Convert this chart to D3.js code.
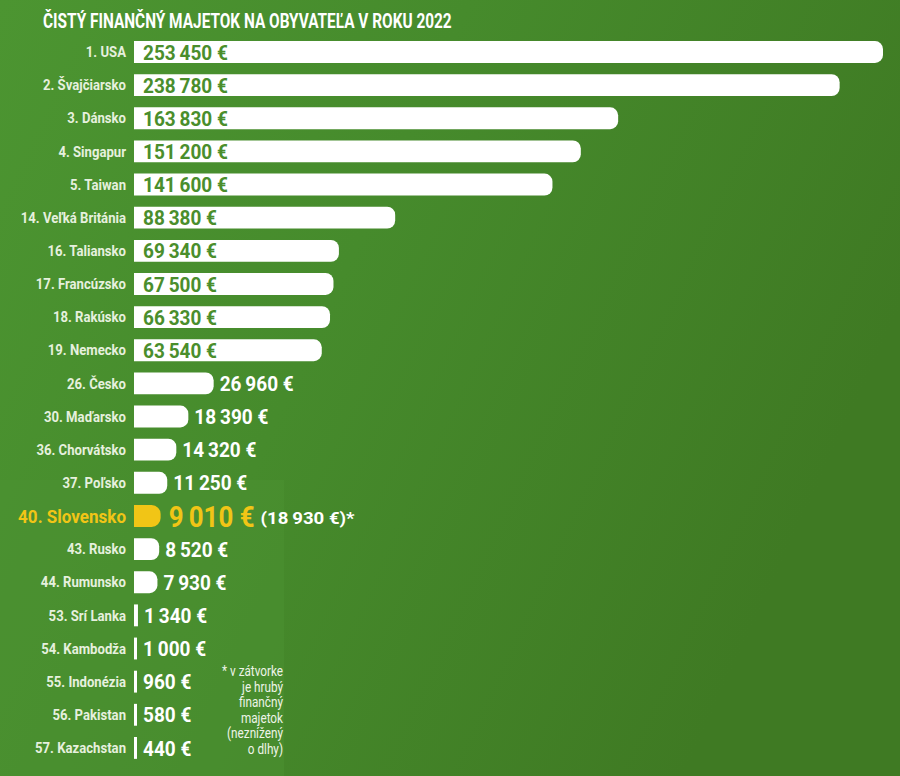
<!DOCTYPE html>
<html>
<head>
<meta charset="utf-8">
<script src="https://cdn.jsdelivr.net/npm/d3@7"></script>
<style>
  html, body { margin: 0; padding: 0; background: #45872b; }
  svg { display: block; }
  text { font-family: Roboto, "Open Sans", "Liberation Sans", sans-serif; }
</style>
</head>
<body>
<svg id="chart" width="900" height="776"></svg>
<script>
const title = "ČISTÝ FINANČNÝ MAJETOK NA OBYVATEĽA V ROKU 2022";
const countries = ["1. USA", "2. Švajčiarsko", "3. Dánsko", "4. Singapur", "5. Taiwan",
  "14. Veľká Británia", "16. Taliansko", "17. Francúzsko", "18. Rakúsko", "19. Nemecko",
  "26. Česko", "30. Maďarsko", "36. Chorvátsko", "37. Poľsko", "40. Slovensko",
  "43. Rusko", "44. Rumunsko", "53. Srí Lanka", "54. Kambodža", "55. Indonézia",
  "56. Pakistan", "57. Kazachstan"];
const values = [253450, 238780, 163830, 151200, 141600, 88380, 69340, 67500, 66330, 63540,
  26960, 18390, 14320, 11250, 9010, 8520, 7930, 1340, 1000, 960, 580, 440];
const highlight = "40. Slovensko";
const highlightGross = 18930;
const footnote = ["* v zátvorke", "je hrubý", "finančný", "majetok", "(neznížený", "o dlhy)"];

const svg = d3.select("#chart");
const W = 900, H = 776;

const defs = svg.append("defs");
const bg = defs.append("linearGradient").attr("id", "bg").attr("x1", 0).attr("y1", 0).attr("x2", 1).attr("y2", 0.4);
bg.append("stop").attr("offset", "0%").attr("stop-color", "#4c9531");
bg.append("stop").attr("offset", "45%").attr("stop-color", "#468b2c");
bg.append("stop").attr("offset", "100%").attr("stop-color", "#3f7a23");
svg.append("rect").attr("width", W).attr("height", H).attr("fill", "url(#bg)");
svg.append("rect").attr("x", 0).attr("y", 480).attr("width", 284).attr("height", H - 480)
  .attr("fill", "#4c9231").attr("opacity", 0.5);

const x = d3.scaleLinear().domain([0, d3.max(values)]).range([134, 883]);
const y = d3.scaleBand().domain(countries).range([35.4, 764.5]).paddingInner(0.34).paddingOuter(0.17);

const fmt = v => d3.format(",")(v).replace(/,/g, "\u2009") + "\u00a0€";

// horizontal compression factor so a sample string spans a target width
function squeeze(sample, size, weight, target) {
  const t = svg.append("text").attr("font-size", size).attr("font-weight", weight).text(sample);
  const w = t.node().getComputedTextLength();
  t.remove();
  return target / w;
}
function place(sel, sx, fx, fy) {
  sel.attr("x", 0).attr("y", 0)
    .attr("transform", (d, i) => `translate(${fx(d, i)},${fy(d, i)}) scale(${sx},1)`);
}

const sxTitle = squeeze(title, 20, "bold", 409);
const sxLabel = squeeze("57. Kazachstan", 14.5, "bold", 91);
const sxHiLabel = squeeze("40. Slovensko", 19, "bold", 108);
const sxValue = squeeze(fmt(88380), 21, "bold", 74);
const sxHiValue = squeeze(fmt(9010), 30, "bold", 86);
const sxGross = squeeze("(" + fmt(highlightGross) + ")*", 16.5, "bold", 94);
const sxNote = squeeze("* v zátvorke", 14, "normal", 61);

svg.append("text").attr("fill", "#ffffff").attr("font-size", 20).attr("font-weight", "bold")
  .datum(title).text(d => d)
  .call(place, sxTitle, () => 43, () => 28);

function barPath(x0, x1, y0, h, r) {
  const w = x1 - x0;
  r = Math.min(r, w, h / 2);
  if (w < 5) return `M${x0},${y0}h${w}v${h}h${-w}Z`;
  return `M${x0},${y0}H${x1 - r}A${r},${r} 0 0 1 ${x1},${y0 + r}V${y0 + h - r}A${r},${r} 0 0 1 ${x1 - r},${y0 + h}H${x0}Z`;
}

const rows = countries.map((c, i) => ({ c, v: values[i] }));
const cy = d => y(d.c) + y.bandwidth() / 2;
const barEnd = d => Math.max(x(d.v), x(0) + 3);
const inside = d => x(d.v) - x(0) > 150;
const isHi = d => d.c === highlight;

const row = svg.append("g").selectAll("g.row").data(rows).join("g").attr("class", "row");

row.append("text")
  .attr("dy", "0.36em")
  .attr("text-anchor", "end")
  .attr("font-size", d => isHi(d) ? 19 : 14.5)
  .attr("font-weight", "bold")
  .attr("fill", d => isHi(d) ? "#f1c516" : "#e6f0de")
  .text(d => d.c)
  .each(function(d) {
    d3.select(this).call(place, isHi(d) ? sxHiLabel : sxLabel, () => 126, () => cy(d));
  });

row.append("path")
  .attr("d", d => barPath(x(0), barEnd(d), y(d.c), y.bandwidth(), isHi(d) ? 9 : 8))
  .attr("fill", d => isHi(d) ? "#f1c516" : "#ffffff");

row.append("text")
  .attr("dy", "0.36em")
  .attr("font-size", d => isHi(d) ? 30 : 21)
  .attr("font-weight", "bold")
  .attr("fill", d => isHi(d) ? "#f1c516" : (inside(d) ? "#4a8e2c" : "#ffffff"))
  .text(d => fmt(d.v))
  .each(function(d) {
    const sx = isHi(d) ? sxHiValue : sxValue;
    const x0 = inside(d) ? x(0) + 9 : barEnd(d) + (isHi(d) ? 8 : 6);
    d3.select(this).call(place, sx, () => x0, () => cy(d));
    if (isHi(d)) {
      const w = this.getComputedTextLength() * sx;
      d3.select(this.parentNode).append("text")
        .attr("dy", "0.4em")
        .attr("font-size", 16.5)
        .attr("font-weight", "bold")
        .attr("fill", "#ffffff")
        .text("(" + fmt(highlightGross) + ")*")
        .call(place, sxGross, () => x0 + w + 6, () => cy(d) + 1);
    }
  });

svg.append("g").selectAll("text").data(footnote).join("text")
  .attr("text-anchor", "end")
  .attr("font-size", 14)
  .attr("fill", "#eef4e8")
  .text(d => d)
  .call(place, sxNote, () => 283, (d, i) => 676 + i * 15.6);
</script>
</body>
</html>
